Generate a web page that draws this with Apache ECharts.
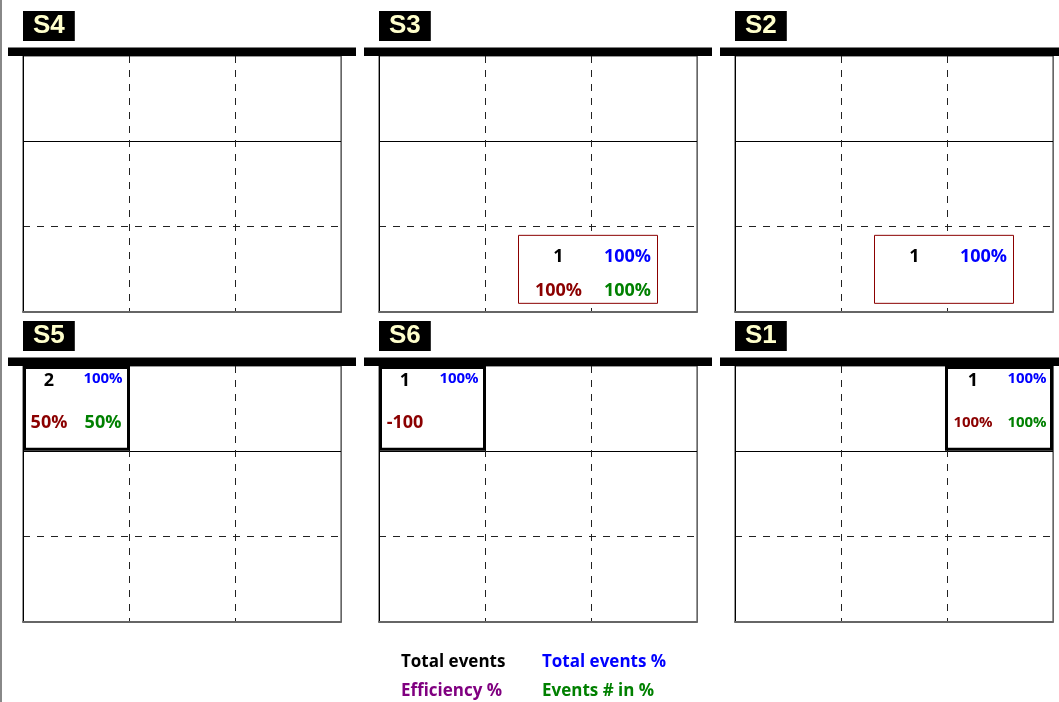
<!DOCTYPE html>
<html><head><meta charset="utf-8">
<script src="https://cdn.jsdelivr.net/npm/echarts@6/dist/echarts.min.js"></script>
<style>html,body{margin:0;padding:0;background:#fff}#c{width:1059px;height:702px}</style>
</head><body><div id="c"></div>
<script>
// ---- data ----
const panelNames = ['S4', 'S3', 'S2', 'S5', 'S6', 'S1'];
const markPanel = ['S3', 'S2', 'S5', 'S6', 'S1'];
const markKind = ['box', 'box', 'cell', 'cell', 'cell'];
const markCol = [2, 2, 0, 0, 2];
const markRow = [0, 0, 2, 2, 2];
const totalEvents = ['1', '1', '2', '1', '1'];
const totalEventsPct = ['100%', '100%', '100%', '100%', '100%'];
const efficiencyPct = ['100%', '', '50%', '-100', '100%'];
const eventsInPct = ['100%', '', '50%', '', '100%'];
const legendLabels = ['Total events', 'Total events %', 'Efficiency %', 'Events # in %'];
const gridTicks = [0, 1, 2, 3];

// ---- layout / style ----
const gridLefts = [23, 379, 735], gridTops = [56, 366], gridW = 318, gridH = 256;
const FONT = 'Open Sans';
const C_BLACK = '#000', C_BLUE = '#0000FF', C_RED = '#8B0000', C_GREEN = '#008000', C_PURPLE = '#800080';
const DASH = [7, 7];

const chart = echarts.init(document.getElementById('c'), null, {renderer: 'canvas'});

const grids = [], xAxes = [], yAxes = [], titles = [], series = [], graphics = [];
graphics.push({type: 'rect', left: 0, top: 0, shape: {width: 2, height: 702}, style: {fill: '#888'}, z: 100});

panelNames.forEach((name, i) => {
  const L = gridLefts[i % 3], T = gridTops[Math.floor(i / 3)];
  grids.push({left: L, top: T, width: gridW, height: gridH, show: true, borderColor: '#333', borderWidth: 1, backgroundColor: '#fff'});
  xAxes.push({gridIndex: i, type: 'value', min: gridTicks[0], max: gridTicks[3], interval: 1,
    axisLabel: {show: false}, axisTick: {show: false},
    axisLine: {show: true, onZero: false, lineStyle: {color: '#666', width: 2}},
    splitLine: {show: true, showMinLine: false, showMaxLine: false, lineStyle: {color: '#222', type: DASH, width: 1}}});
  yAxes.push({gridIndex: i, type: 'value', min: gridTicks[0], max: gridTicks[3], interval: 1, position: 'left',
    axisLabel: {show: false}, axisTick: {show: false},
    axisLine: {show: true, onZero: false, lineStyle: {color: '#000', width: 1}},
    splitLine: {show: true, showMinLine: false, showMaxLine: false, lineStyle: {color: '#222', type: DASH, width: 1}}});
  yAxes.push({gridIndex: i, type: 'value', min: gridTicks[0], max: gridTicks[3], interval: 2, position: 'right',
    axisLabel: {show: false}, axisTick: {show: false},
    axisLine: {show: true, onZero: false, lineStyle: {color: '#666', width: 1}},
    splitLine: {show: true, showMinLine: false, showMaxLine: false, lineStyle: {color: '#000', type: 'solid', width: 1}}});
  titles.push({text: name, left: L, top: T - 45, backgroundColor: '#000', padding: [2, 10, 2, 10],
    textStyle: {color: '#FFFFCC', fontFamily: 'Liberation Sans', fontWeight: 'bold', fontSize: 26, lineHeight: 26}});
  const barRight = Math.min(L + gridW + 15, 1059);
  graphics.push({type: 'rect', left: L - 15, top: T - 8.5, shape: {width: barRight - (L - 15), height: 8.5}, style: {fill: '#000'}, z: 100});

  const data = [];
  markPanel.forEach((p, m) => { if (p === name) data.push([markCol[m], markRow[m], m]); });
  series.push({type: 'custom', xAxisIndex: i, yAxisIndex: 2 * i, data: data, clip: false, z: 5,
    encode: {x: 0, y: 1},
    renderItem: function (params, api) {
      const m = api.value(2), col = api.value(0), row = api.value(1);
      const children = [];
      const txt = (s, x, y, color, size) => {
        if (!s) return;
        children.push({type: 'text', style: {text: s, x: x, y: y, fill: color, font: 'bold ' + size + 'px "' + FONT + '"', textAlign: 'center', textVerticalAlign: 'middle'}});
      };
      if (markKind[m] === 'cell') {
        const p0 = api.coord([col, row + 1]), p1 = api.coord([col + 1, row]);
        const x0 = p0[0], y0 = p0[1], w = p1[0] - p0[0], h = p1[1] - p0[1];
        const lx = x0 + (col === 0 ? 1.5 : -0.5);
        const rx = x0 + w + (col === 2 ? -1.5 : -0.5);
        children.push({type: 'rect', shape: {x: lx, y: y0 + 1.5, width: rx - lx, height: h - 3.5}, style: {fill: '#fff', stroke: '#000', lineWidth: 3}});
        const cx = x0 + w / 2, cy = y0 + h / 2;
        const fs = s => (s.length >= 4 && s.endsWith('%')) ? 15 : 18;
        txt(totalEvents[m], cx - 27, cy - 28, C_BLACK, 18);
        txt(totalEventsPct[m], cx + 27, cy - 29.5, C_BLUE, 15);
        txt(efficiencyPct[m], cx - 27, cy + 14.5, C_RED, fs(efficiencyPct[m]));
        txt(eventsInPct[m], cx + 27, cy + 14.5, C_GREEN, fs(eventsInPct[m]));
      } else {
        const c = api.coord([col, row + 0.5]);
        const cx = c[0] - 3, cy = c[1];
        children.push({type: 'rect', shape: {x: cx - 69.5, y: cy - 34, width: 139, height: 68}, style: {fill: '#fff', stroke: C_RED, lineWidth: 1}});
        txt(totalEvents[m], cx - 29.5, cy - 12, C_BLACK, 18);
        txt(totalEventsPct[m], cx + 39.5, cy - 12, C_BLUE, 18);
        txt(efficiencyPct[m], cx - 29.5, cy + 22, C_RED, 18);
        txt(eventsInPct[m], cx + 39.5, cy + 22, C_GREEN, 18);
      }
      return {type: 'group', children: children};
    }
  });
});

const legendColors = [C_BLACK, C_BLUE, C_PURPLE, C_GREEN];
const legendPos = [[401, 662], [542, 662], [401, 691], [542, 691]];
legendLabels.forEach((s, k) => {
  graphics.push({type: 'text', x: legendPos[k][0], y: legendPos[k][1], z: 100,
    style: {text: s, fill: legendColors[k], font: 'bold 17px "' + FONT + '"', textAlign: 'left', textVerticalAlign: 'middle'}});
});

chart.setOption({
  animation: false,
  backgroundColor: '#fff',
  title: titles,
  grid: grids,
  xAxis: xAxes,
  yAxis: yAxes,
  series: series,
  graphic: graphics
});
</script></body></html>
